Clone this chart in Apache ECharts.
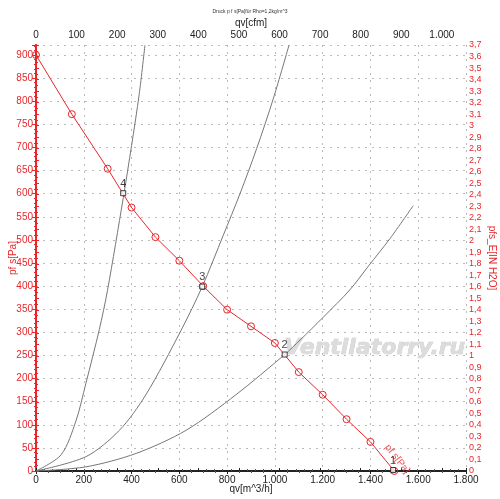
<!DOCTYPE html>
<html>
<head>
<meta charset="utf-8">
<title>Druck p f s</title>
<script src="https://cdn.jsdelivr.net/npm/echarts@6/dist/echarts.min.js"></script>
<style>
    html, body { margin: 0; padding: 0; background: #fff; }
    #e_container { width: 500px; height: 499px; }
</style>
</head>
<body>
<div id="e_container"></div>
<script>
// 风机特性曲线 pf s[Pa]
var flowFan = [0, 150, 300, 400, 500, 600, 700, 800, 900, 1000, 1100, 1200, 1300, 1400, 1500];
var pressFan = [900, 772, 654, 570, 506, 455, 400, 349, 313, 277, 214, 165, 112, 63, 0];

// 系统阻力曲线 (灰色)
var flowSys2 = [0, 209, 419, 628, 837, 1041, 1105, 1203, 1314, 1391, 1482, 1579];
var pressSys2 = [0, 9, 38, 88, 165, 252, 283, 333, 392, 443, 503, 574];
var flowSys3 = [0, 209, 349, 460, 607, 696, 784, 854, 924, 993, 1059];
var pressSys3 = [0, 31, 88, 165, 304, 399, 510, 600, 698, 805, 921];
var flowSys4 = [0, 105, 167, 209, 265, 299, 365, 400, 432, 456];
var pressSys4 = [0, 35, 108, 190, 306, 390, 590, 704, 815, 921];

// 工作点
var opFlow = [1495, 1041, 696, 365];
var opPress = [2, 252, 399, 601];
var opNames = ['1', '2', '3', '4'];

var redColor = '#e8262a';
var paPerInch = 249.089;
var cfmFactor = 1.69901;

function toPairs(xs, ys) {
    var out = [];
    for (var i = 0; i < xs.length; i++) {
        out.push([xs[i], ys[i]]);
    }
    return out;
}

// 千位用点分隔
function fmtThousand(v) {
    v = Math.round(v);
    if (v >= 1000) {
        return Math.floor(v / 1000) + '.' + ('00' + (v % 1000)).slice(-3);
    }
    return '' + v;
}

var opData = [];
for (var j = 0; j < opFlow.length; j++) {
    opData.push({ name: opNames[j], value: [opFlow[j], opPress[j]] });
}

var dom = document.getElementById("e_container");
var myChart = echarts.init(dom);

var grayLine = function (xs, ys) {
    return {
        type: 'line',
        data: toPairs(xs, ys),
        smooth: 0.3,
        symbol: 'none',
        silent: true,
        lineStyle: { color: '#777', width: 1 },
        z: 2
    };
};

option = {
    animation: false,
    backgroundColor: '#fff',
    textStyle: { fontFamily: 'Liberation Sans, Arial, sans-serif' },
    title: {
        text: 'Druck p f s[Pa]für Rho=1,2kg/m^3',
        left: 'center',
        top: 4,
        textStyle: { fontSize: 5, fontWeight: 'normal', color: '#333' }
    },
    grid: { left: 36, right: 34, top: 45, bottom: 28, outerBoundsMode: 'none' },
    xAxis: [{
        type: 'value',
        position: 'bottom',
        min: 0,
        max: 1800,
        interval: 200,
        name: 'qv[m^3/h]',
        nameLocation: 'middle',
        nameMoveOverlap: false,
        nameGap: 13,
        nameTextStyle: { color: '#222', fontSize: 10 },
        axisLine: { lineStyle: { color: '#222', width: 2 } },
        axisTick: { length: 3, lineStyle: { color: '#222' } },
        minorTick: { show: true, splitNumber: 4, length: 2, lineStyle: { color: '#555' } },
        axisLabel: { color: '#222', fontSize: 10, margin: 4, formatter: fmtThousand },
        splitLine: { show: true, lineStyle: { color: '#bbb', type: [2, 5], width: 1 } }
    }, {
        type: 'value',
        position: 'top',
        min: 0,
        max: 1800 / cfmFactor,
        interval: 100,
        name: 'qv[cfm]',
        nameLocation: 'middle',
        nameMoveOverlap: false,
        nameGap: 17,
        nameTextStyle: { color: '#222', fontSize: 10 },
        axisLine: { lineStyle: { color: '#222', width: 2 } },
        axisTick: { length: 3, lineStyle: { color: '#222' } },
        minorTick: { show: true, splitNumber: 5, length: 2, lineStyle: { color: '#555' } },
        axisLabel: { color: '#222', fontSize: 10, margin: 5, showMaxLabel: false, formatter: fmtThousand },
        splitLine: { show: false }
    }],
    yAxis: [{
        type: 'value',
        position: 'left',
        min: 0,
        max: 3.7 * paPerInch,
        interval: 50,
        name: 'pf s[Pa]',
        nameLocation: 'middle',
        nameMoveOverlap: false,
        nameRotate: 90,
        nameGap: 18,
        nameTextStyle: { color: redColor, fontSize: 10 },
        axisLine: { show: true, lineStyle: { color: redColor, width: 2 } },
        axisTick: { show: true, length: 4, lineStyle: { color: redColor } },
        minorTick: { show: true, splitNumber: 5, length: 2, lineStyle: { color: redColor } },
        axisLabel: { color: redColor, fontSize: 10, margin: 3, showMaxLabel: false },
        splitLine: { show: true, lineStyle: { color: '#bbb', type: [2, 5], width: 1 } }
    }, {
        type: 'value',
        position: 'right',
        min: 0,
        max: 3.7,
        interval: 0.1,
        name: 'pfs_E[IN H2O]',
        nameLocation: 'middle',
        nameMoveOverlap: false,
        nameRotate: -90,
        nameGap: 21,
        nameTextStyle: { color: redColor, fontSize: 10 },
        axisLine: { show: true, lineStyle: { color: redColor, width: 2 } },
        axisTick: { show: true, length: 3, lineStyle: { color: redColor } },
        minorTick: { show: true, splitNumber: 2, length: 2, lineStyle: { color: redColor } },
        axisLabel: {
            color: redColor, fontSize: 9, margin: 3,
            formatter: function (v) {
                return ('' + Math.round(v * 10) / 10).replace('.', ',');
            }
        },
        splitLine: { show: false }
    }],
    graphic: [{
        type: 'text',
        left: 284,
        top: 337,
        silent: true,
        z: 1,
        style: {
            text: 'Ventilatorry.ru',
            font: 'italic bold 22px "DejaVu Sans", sans-serif',
            fill: '#dcdcdc',
            stroke: '#c4c4c4',
            lineWidth: 0.6
        }
    }],
    series: [
        grayLine(flowSys2, pressSys2),
        grayLine(flowSys3, pressSys3),
        grayLine(flowSys4, pressSys4),
        {
            type: 'line',
            name: 'pf s[Pa]',
            data: toPairs(flowFan, pressFan),
            symbol: 'circle',
            symbolSize: 7,
            itemStyle: { color: 'rgba(0,0,0,0)', borderColor: redColor, borderWidth: 1 },
            lineStyle: { color: redColor, width: 1 },
            z: 3
        },
        {
            // 曲线名称
            type: 'scatter',
            data: [[1512, 26]],
            symbolSize: 0,
            silent: true,
            label: {
                show: true,
                formatter: 'pf s[Pa]',
                rotate: -52,
                color: redColor,
                fontSize: 10,
                position: 'inside'
            },
            z: 4
        },
        {
            type: 'scatter',
            data: opData,
            symbol: 'rect',
            symbolSize: 5,
            itemStyle: { color: '#fff', borderColor: '#111', borderWidth: 1 },
            label: {
                show: true,
                formatter: '{b}',
                position: 'top',
                distance: 1,
                color: '#111',
                fontSize: 11
            },
            z: 5
        }
    ]
};

if (option && typeof option === "object") {
    myChart.setOption(option, true);
}
</script>
</body>
</html>
